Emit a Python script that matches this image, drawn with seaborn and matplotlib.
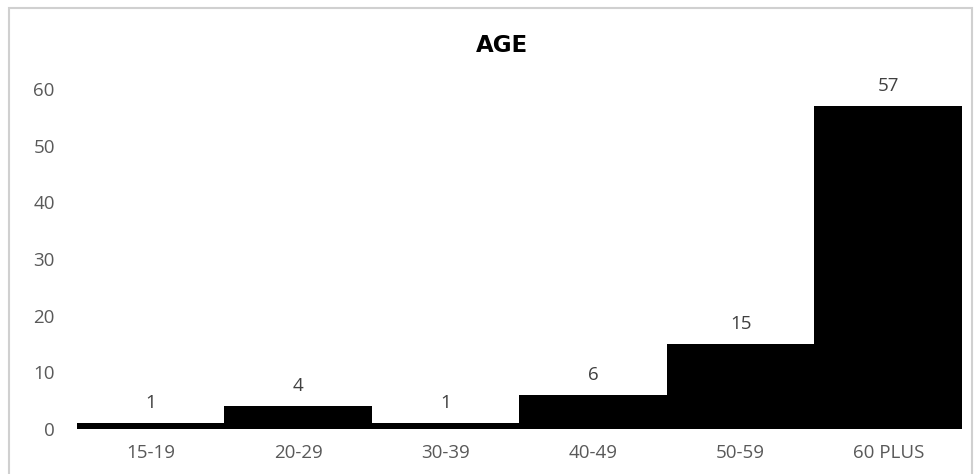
import matplotlib
matplotlib.use("Agg")
import matplotlib.pyplot as plt
import seaborn as sns
import pandas as pd
from matplotlib.patches import Rectangle

# Respondents by age group
age_groups = ["15-19", "20-29", "30-39", "40-49", "50-59", "60 PLUS"]
counts = [1, 4, 1, 6, 15, 57]
y_ticks = [0, 10, 20, 30, 40, 50, 60]

df = pd.DataFrame({"age": age_groups, "count": counts})

sns.set_theme(style="white")
plt.rcParams["font.family"] = ["Open Sans", "DejaVu Sans"]

W, H = 979, 474
fig = plt.figure(figsize=(W / 100, H / 100), dpi=100)
fig.patch.set_facecolor("white")

# light frame around the chart area
fig.patches.append(Rectangle((9 / W, -0.05), (972 - 9) / W, 1 - 8 / H + 0.05,
                             transform=fig.transFigure, fill=False,
                             edgecolor="#d0d0d0", linewidth=1.5))

ax = fig.add_axes([77 / W, 1 - 429 / H, (962 - 77) / W, (429 - 89) / H])
sns.barplot(data=df, x="age", y="count", color="black", width=1.0,
            saturation=1, ax=ax, linewidth=0)

ax.set_ylim(0, 60)
ax.set_xlim(-0.5, len(age_groups) - 0.5)
ax.set_yticks(y_ticks)
ax.set_xlabel("")
ax.set_ylabel("")
for s in ax.spines.values():
    s.set_visible(False)
ax.tick_params(axis="both", length=0, labelsize=13.5, colors="#595959")
ax.tick_params(axis="x", pad=11)
ax.tick_params(axis="y", pad=16)

for i, v in enumerate(counts):
    ax.annotate(str(v), (i, v), xytext=(0, 8), textcoords="offset points",
                ha="center", va="bottom", fontsize=13.5, color="#404040")

fig.text(502 / W, 1 - 45 / H, "AGE", ha="center", va="center",
         fontsize=16.5, fontweight="bold", color="black",
         family=["DejaVu Sans"])

fig.savefig("out.png", dpi=100, facecolor="white")
